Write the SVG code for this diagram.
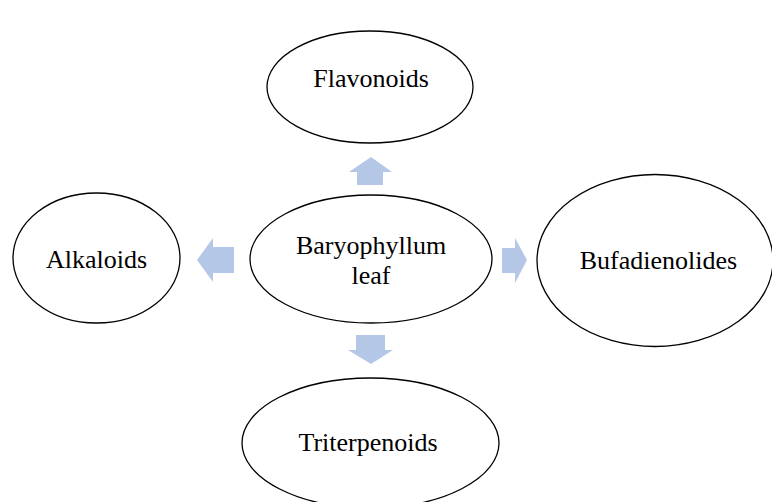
<svg xmlns="http://www.w3.org/2000/svg" width="772" height="502" viewBox="0 0 772 502">
<style>
.node ellipse{fill:#ffffff;stroke:#000000;stroke-width:1.3}
.node text{font-family:"Liberation Serif","Times New Roman",serif;font-size:26px;fill:#000000;text-anchor:middle}
.arrow{fill:#B4C7E7}
</style>
<rect width="772" height="502" fill="#ffffff"/>
<g id="connectors">
<polygon class="arrow" points="371,157 392,172 383,172 383,185 357,185 357,172 349,172"/>
<polygon class="arrow" points="197,260 213,238 213,247 234,247 234,273 213,273 213,282"/>
<polygon class="arrow" points="527,260 515,238 515,248 502,248 502,273 515,273 515,283"/>
<polygon class="arrow" points="371,364 393,350 385,350 385,335 356,335 356,350 348,350"/>
</g>
<g id="center" class="node">
<ellipse cx="371" cy="259" rx="121" ry="64"/>
<text x="371" y="254">Baryophyllum<tspan x="371" dy="30">leaf</tspan></text>
</g>
<g id="flavonoids" class="node">
<ellipse cx="370" cy="87" rx="103" ry="56"/>
<text x="371" y="87">Flavonoids</text>
</g>
<g id="alkaloids" class="node">
<ellipse cx="96.5" cy="258" rx="83.5" ry="65"/>
<text x="96.5" y="268">Alkaloids</text>
</g>
<g id="bufadienolides" class="node">
<ellipse cx="655" cy="260.5" rx="118" ry="86"/>
<text x="658.5" y="269">Bufadienolides</text>
</g>
<g id="triterpenoids" class="node">
<ellipse cx="370.5" cy="443" rx="128.5" ry="65"/>
<text x="368" y="451">Triterpenoids</text>
</g>
</svg>
